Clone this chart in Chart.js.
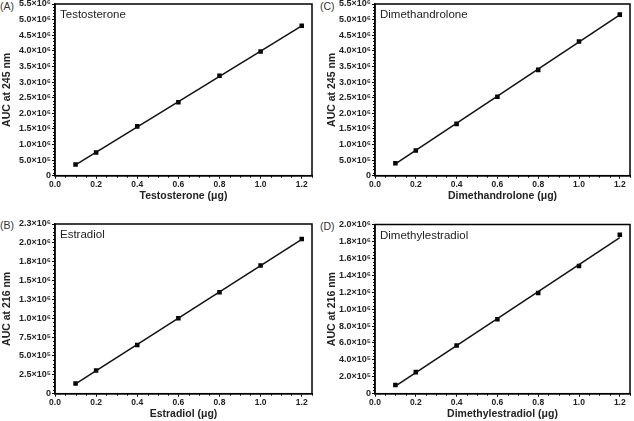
<!DOCTYPE html>
<html>
<head>
<meta charset="utf-8">
<script src="https://cdn.jsdelivr.net/npm/chart.js@4/dist/chart.umd.min.js"></script>
<style>
  html, body { margin: 0; padding: 0; background: #fff; }
  body { width: 634px; height: 421px; position: relative; overflow: hidden; font-family: "Liberation Sans", Arial, sans-serif; }
  canvas { position: absolute; }
  .lab { position: absolute; font-size: 10.5px; color: #333; line-height: 12px; }
</style>
</head>
<body>
<div class="lab" style="left:0px;top:0px;">(A)</div>
<div class="lab" style="left:320px;top:0px;">(C)</div>
<div class="lab" style="left:0px;top:219px;">(B)</div>
<div class="lab" style="left:320px;top:220px;">(D)</div>
<canvas id="cA"></canvas>
<canvas id="cC"></canvas>
<canvas id="cB"></canvas>
<canvas id="cD"></canvas>
<script>
// ---------- data ----------
const amounts = [0.1, 0.2, 0.4, 0.6, 0.8, 1.0, 1.2];
const testosteroneAUC = [3.6e5, 7.4e5, 1.58e6, 2.35e6, 3.2e6, 3.98e6, 4.8e6];
const dimethandroloneAUC = [4.0e5, 8.1e5, 1.66e6, 2.53e6, 3.39e6, 4.30e6, 5.16e6];
const estradiolAUC = [1.36e5, 3.07e5, 6.45e5, 1.0e6, 1.345e6, 1.70e6, 2.05e6];
const dimethylestradiolAUC = [1.02e5, 2.55e5, 5.7e5, 8.8e5, 1.19e6, 1.51e6, 1.88e6];

const fitX = [0.1, 1.2];
const testosteroneFit = [3.5e5, 4.8e6];
const dimethandroloneFit = [3.75e5, 5.15e6];
const estradiolFit = [1.30e5, 2.046e6];
const dimethylestradiolFit = [9.0e4, 1.845e6];

const xTickValues = [0, 0.2, 0.4, 0.6, 0.8, 1.0, 1.2];
const xTickLabels = ['0.0', '0.2', '0.4', '0.6', '0.8', '1.0', '1.2'];

const yTicks245 = [0, 5e5, 1e6, 1.5e6, 2e6, 2.5e6, 3e6, 3.5e6, 4e6, 4.5e6, 5e6, 5.5e6];
const yLabels245 = ['0', '5.0×10⁵', '1.0×10⁶', '1.5×10⁶', '2.0×10⁶', '2.5×10⁶', '3.0×10⁶', '3.5×10⁶', '4.0×10⁶', '4.5×10⁶', '5.0×10⁶', '5.5×10⁶'];
const yTicksEstradiol = [0, 2.5e5, 5e5, 7.5e5, 1e6, 1.25e6, 1.5e6, 1.75e6, 2e6, 2.25e6];
const yLabelsEstradiol = ['0', '2.5×10⁵', '5.0×10⁵', '7.5×10⁵', '1.0×10⁶', '1.3×10⁶', '1.5×10⁶', '1.8×10⁶', '2.0×10⁶', '2.3×10⁶'];
const yTicksDimethylestradiol = [0, 2e5, 4e5, 6e5, 8e5, 1e6, 1.2e6, 1.4e6, 1.6e6, 1.8e6, 2e6];
const yLabelsDimethylestradiol = ['0', '2.0×10⁵', '4.0×10⁵', '6.0×10⁵', '8.0×10⁵', '1.0×10⁶', '1.2×10⁶', '1.4×10⁶', '1.6×10⁶', '1.8×10⁶', '2.0×10⁶'];

// ---------- drawing ----------
const FONT = '"Liberation Sans", Arial, sans-serif';
const X_MAX = 1.25;
const X_MINOR = 0.05;

const framePlugin = {
  id: 'frame',
  afterDraw(chart) {
    const o = chart.options.plugins.frame;
    const ctx = chart.ctx, ca = chart.chartArea;
    const xs = chart.scales.x, ys = chart.scales.y;
    ctx.save();
    ctx.strokeStyle = '#000';
    ctx.lineWidth = 1;
    ctx.beginPath();
    for (let v = X_MINOR; v < X_MAX + 1e-9; v += X_MINOR) {
      const r = Math.round(v / 0.2 * 1000) / 1000;
      if (Math.abs(r - Math.round(r)) < 1e-6) continue;
      const px = Math.round(xs.getPixelForValue(v)) + 0.5;
      ctx.moveTo(px, ca.bottom); ctx.lineTo(px, ca.bottom + 2);
    }
    const step = o.yStep / o.yMinorDiv;
    for (let v = step, i = 1; v < ys.max + 1; v += step, i++) {
      if (i % o.yMinorDiv === 0) continue;
      const py = Math.round(ys.getPixelForValue(v)) + 0.5;
      ctx.moveTo(ca.left - 2, py); ctx.lineTo(ca.left, py);
    }
    ctx.stroke();
    ctx.lineWidth = 1.5;
    ctx.strokeRect(ca.left, ca.top, ca.right - ca.left, ca.bottom - ca.top);
    ctx.fillStyle = '#222';
    ctx.font = '11.5px ' + FONT;
    ctx.textBaseline = 'middle';
    ctx.textAlign = 'left';
    ctx.fillText(o.title, ca.left + 5, ca.top + 11);
    ctx.restore();
  }
};

function makePanel(id, p) {
  const cv = document.getElementById(id);
  cv.width = p.w; cv.height = p.h;
  cv.style.left = p.left + 'px'; cv.style.top = p.top + 'px';
  cv.style.width = p.w + 'px'; cv.style.height = p.h + 'px';
  new Chart(cv, {
    type: 'scatter',
    data: {
      datasets: [
        {
          data: fitX.map((x, i) => ({ x: x, y: p.fit[i] })),
          showLine: true, borderColor: '#111', borderWidth: 1.5,
          pointRadius: 0, fill: false
        },
        {
          data: amounts.map((x, i) => ({ x: x, y: p.values[i] })),
          showLine: false, pointStyle: 'rect', pointRadius: 3.2,
          backgroundColor: '#000', borderColor: '#000', borderWidth: 0
        }
      ]
    },
    options: {
      responsive: false, animation: false, devicePixelRatio: 1,
      layout: { padding: { top: p.padTop, right: p.padRight, left: 0, bottom: 0 } },
      plugins: {
        legend: { display: false }, tooltip: { enabled: false },
        frame: { title: p.title, yStep: p.yTicks[1], yMinorDiv: 5 }
      },
      scales: {
        x: {
          type: 'linear', min: 0, max: X_MAX,
          afterBuildTicks: s => { s.ticks = xTickValues.map(v => ({ value: v })); },
          afterFit: s => { s.height = p.xH; s.paddingLeft = 0; s.paddingRight = 0; },
          grid: { drawOnChartArea: false, tickLength: 3, color: '#000', tickColor: '#000' },
          border: { display: true, color: '#000', width: 1.5 },
          ticks: {
            padding: 1, color: '#222', maxRotation: 0, autoSkip: false,
            font: { family: FONT, size: 8.5, weight: 'bold' },
            callback: (v, i) => xTickLabels[i]
          },
          title: {
            display: true, text: p.xTitle, color: '#222',
            font: { family: FONT, size: 10.5, weight: 'bold' },
            padding: { top: 0, bottom: 1 }
          }
        },
        y: {
          type: 'linear', min: 0, max: p.yTicks[p.yTicks.length - 1],
          afterBuildTicks: s => { s.ticks = p.yTicks.map(v => ({ value: v })); },
          afterFit: s => { s.width = p.yW; s.paddingTop = 0; s.paddingBottom = 0; },
          grid: { drawOnChartArea: false, tickLength: 3, color: '#000', tickColor: '#000' },
          border: { display: true, color: '#000', width: 1.5 },
          ticks: {
            padding: 1, color: '#222', autoSkip: false,
            font: { family: FONT, size: 9, weight: 'bold' },
            callback: (v, i) => p.yLabels[i]
          },
          title: {
            display: true, text: p.yTitle, color: '#222',
            font: { family: FONT, size: 10.5, weight: 'bold' },
            padding: { top: 1, bottom: 0 }
          }
        }
      }
    },
    plugins: [framePlugin]
  });
}

makePanel('cA', {
  left: 0, top: 0, w: 317, h: 203, yW: 55, xH: 27.3, padTop: 3.5, padRight: 5,
  values: testosteroneAUC, fit: testosteroneFit, yTicks: yTicks245, yLabels: yLabels245,
  title: 'Testosterone', xTitle: 'Testosterone (μg)', yTitle: 'AUC at 245 nm'
});
makePanel('cC', {
  left: 325, top: 0, w: 309, h: 203, yW: 50, xH: 27.3, padTop: 3.5, padRight: 2,
  values: dimethandroloneAUC, fit: dimethandroloneFit, yTicks: yTicks245, yLabels: yLabels245,
  title: 'Dimethandrolone', xTitle: 'Dimethandrolone (μg)', yTitle: 'AUC at 245 nm'
});
makePanel('cB', {
  left: 0, top: 219.5, w: 317, h: 201.5, yW: 55, xH: 27.3, padTop: 4, padRight: 5,
  values: estradiolAUC, fit: estradiolFit, yTicks: yTicksEstradiol, yLabels: yLabelsEstradiol,
  title: 'Estradiol', xTitle: 'Estradiol (μg)', yTitle: 'AUC at 216 nm'
});
makePanel('cD', {
  left: 325, top: 219.5, w: 309, h: 201.5, yW: 50, xH: 27.3, padTop: 4.5, padRight: 2,
  values: dimethylestradiolAUC, fit: dimethylestradiolFit, yTicks: yTicksDimethylestradiol, yLabels: yLabelsDimethylestradiol,
  title: 'Dimethylestradiol', xTitle: 'Dimethylestradiol (μg)', yTitle: 'AUC at 216 nm'
});
</script>
</body>
</html>
